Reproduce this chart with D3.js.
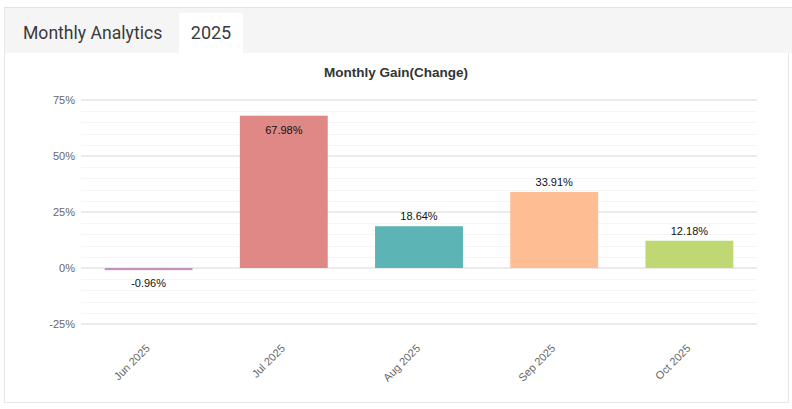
<!DOCTYPE html>
<html><head><meta charset="utf-8">
<script src="https://cdn.jsdelivr.net/npm/d3@7"></script>
<style>
html,body{margin:0;padding:0;background:#fff;}
svg{display:block;}
</style></head>
<body>
<svg id="c" width="792" height="409"></svg>
<script>
const months = ["Jun 2025","Jul 2025","Aug 2025","Sep 2025","Oct 2025"];
const gains = [-0.96, 67.98, 18.64, 33.91, 12.18];
const barColors = ["#c390bf","#e08886","#5cb4b4","#ffbd94","#bfd873"];
const yTicks = [-25, 0, 25, 50, 75];
const minorTicks = d3.range(-25, 76, 5);
const headerTitle = "Monthly Analytics";
const tabLabel = "2025";
const chartTitle = "Monthly Gain(Change)";

const svg = d3.select("#c");

// panel frame
svg.append("rect").attr("x",4.5).attr("y",7.5).attr("width",784).attr("height",395)
  .attr("fill","#fff").attr("stroke","#e6e6e6");
svg.append("rect").attr("x",5).attr("y",8).attr("width",787).attr("height",45).attr("fill","#f5f5f5");
svg.append("line").attr("x1",4).attr("x2",792).attr("y1",7.5).attr("y2",7.5).attr("stroke","#e3e3e3");
svg.append("rect").attr("x",179).attr("y",13).attr("width",64).attr("height",40).attr("fill","#fff");
svg.append("text").attr("x",23).attr("y",39).text(headerTitle)
  .attr("font-family","Roboto, 'Noto Sans', sans-serif").attr("font-size",17.6).attr("fill","#3a3a3a");
svg.append("text").attr("x",211).attr("y",39).attr("text-anchor","middle").text(tabLabel)
  .attr("font-family","Roboto, 'Noto Sans', sans-serif").attr("font-size",18).attr("fill","#3a3a3a");

// chart
const x = d3.scaleBand().domain(months).range([81,757]).paddingInner(0.35).paddingOuter(0.175);
const y = d3.scaleLinear().domain([-25,75]).range([324,100]);

svg.append("text").attr("x",396).attr("y",77).attr("text-anchor","middle").text(chartTitle)
  .attr("font-family","'Liberation Sans', Arial, sans-serif").attr("font-size",13.5)
  .attr("font-weight","bold").attr("fill","#333");

const g = svg.append("g");
g.selectAll("line.minor").data(minorTicks.filter(t=>!yTicks.includes(t))).join("line")
  .attr("x1",81).attr("x2",757).attr("y1",d=>Math.round(y(d))+0.5).attr("y2",d=>Math.round(y(d))+0.5)
  .attr("stroke","#f5f5f5");
g.selectAll("line.major").data(yTicks).join("line")
  .attr("x1",81).attr("x2",757).attr("y1",d=>y(d)).attr("y2",d=>y(d))
  .attr("stroke","#ebebeb").attr("stroke-width",2);

const yAxis = d3.axisLeft(y).tickValues(yTicks).tickSize(0).tickPadding(0).tickFormat(d=>d+"%");
const ya = svg.append("g").attr("transform","translate(75,0)").call(yAxis);
ya.select(".domain").remove();
ya.selectAll("text").attr("font-family","'Liberation Sans', Arial, sans-serif").attr("font-size",11).attr("fill","#666").attr("dy","0.35em");

const xAxis = d3.axisBottom(x).tickSize(0).tickPadding(0);
const xa = svg.append("g").attr("transform","translate(0,338)").call(xAxis);
xa.select(".domain").remove();
xa.selectAll("text").attr("font-family","'Liberation Sans', Arial, sans-serif").attr("font-size",11).attr("fill","#666")
  .attr("text-anchor","end").attr("dy",null).attr("y",0)
  .attr("transform","translate(2,11) rotate(-45)");

// bars
svg.selectAll("rect.bar").data(months).join("rect").attr("class","bar")
  .attr("x",d=>x(d)).attr("width",x.bandwidth())
  .attr("y",(d,i)=>y(Math.max(0,gains[i])))
  .attr("height",(d,i)=>Math.abs(y(gains[i])-y(0)))
  .attr("fill",(d,i)=>barColors[i]);

// labels
svg.selectAll("text.lbl").data(months).join("text").attr("class","lbl")
  .attr("x",d=>x(d)+x.bandwidth()/2).attr("text-anchor","middle")
  .attr("y",(d,i)=>{
    const v=gains[i];
    if(v<0) return y(v)+17;
    const top=y(v);
    return (top-6 < 112) ? top+18 : top-6;
  })
  .text((d,i)=>gains[i].toFixed(2)+"%")
  .attr("font-family","'Liberation Sans', Arial, sans-serif").attr("font-size",11).attr("fill","#111");
</script>
</body></html>
